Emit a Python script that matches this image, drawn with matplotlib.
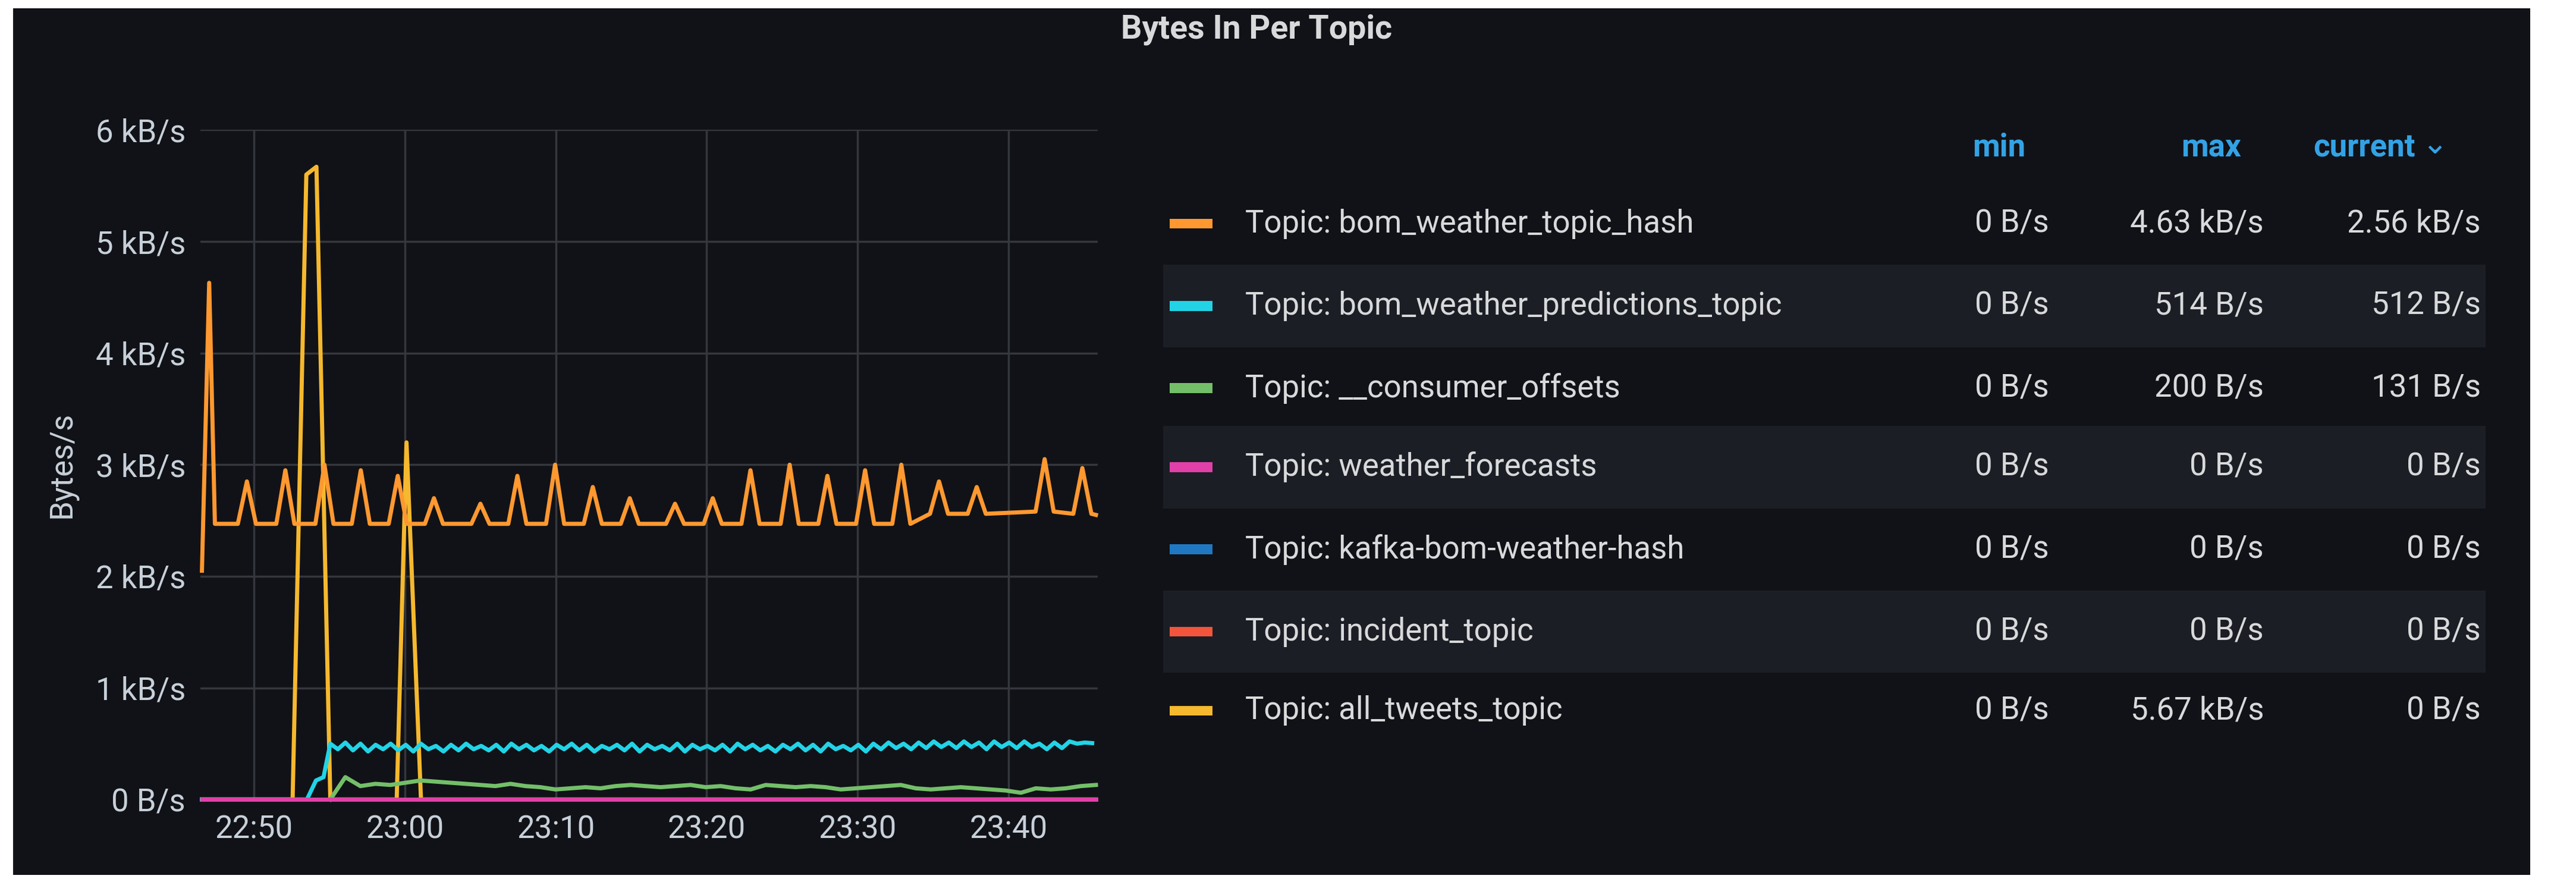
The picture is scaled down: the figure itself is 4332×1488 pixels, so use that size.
import numpy as np
import matplotlib
matplotlib.use("Agg")
import matplotlib.pyplot as plt
from matplotlib.patches import Rectangle

# ---------------- data ----------------
x_ticks = [0, 10, 20, 30, 40, 50]          # minutes after 22:50
x_tick_labels = ["22:50", "23:00", "23:10", "23:20", "23:30", "23:40"]
y_ticks = [0, 1000, 2000, 3000, 4000, 5000, 6000]
y_tick_labels = ["0 B/s", "1 kB/s", "2 kB/s", "3 kB/s", "4 kB/s", "5 kB/s", "6 kB/s"]

t_start, t_end = -3.46, 55.8

orange_peak_t = [-0.48, 2.07, 4.66, 7.07, 9.52, 11.92, 15.0, 17.45, 19.95, 22.45, 24.9,
                 27.9, 30.4, 32.9, 35.5, 38.0, 40.5, 42.9, 45.4, 47.9, 52.4, 54.9]
orange_peak_v = [2850, 2950, 3000, 2950, 2900, 2700, 2650, 2900, 3000, 2800, 2700,
                 2650, 2700, 2950, 3000, 2900, 2950, 3000, 2850, 2800, 3050, 2970]
orange_base_v = [2470, 2470, 2470, 2470, 2470, 2470, 2470, 2470, 2470, 2470, 2470,
                 2470, 2470, 2470, 2470, 2470, 2470, 2470, 2560, 2560, 2580, 2560]
orange_start_t = [-3.46, -2.98, -2.6]
orange_start_v = [2050, 4630, 2470]
orange_end_v = 2550

yellow_t = [-3.46, 2.55, 3.46, 4.13, 5.05, 9.45, 10.1, 11.06, 55.8]
yellow_v = [0, 0, 5600, 5670, 0, 0, 3200, 0, 0]

cyan_pre_t = [-3.46, 3.5, 4.1, 4.6]
cyan_pre_v = [0, 0, 170, 200]
cyan_v = [500,450,510,440,500,430,490,450,500,440,
          490,430,500,450,480,430,490,440,500,450,
          480,440,490,430,500,450,490,440,480,430,
          490,450,500,440,490,430,480,450,490,440,
          500,430,490,450,480,440,500,430,490,450,
          480,440,490,430,500,450,490,440,480,430,
          490,450,500,440,490,430,500,450,480,440,
          490,430,500,450,510,460,500,450,510,460,
          520,470,510,460,520,470,510,450,520,470,
          510,460,520,470,500,450,510,460,520,500,
          510,505]

green_v = [0,200,120,140,130,150,170,160,150,140,130,120,140,120,110,90,100,110,100,120,
           130,120,110,120,130,110,120,100,90,130,120,110,120,110,90,100,110,120,130,100,
           90,100,110,100,90,80,60,100,90,100,120,130]

names = ["Topic: bom_weather_topic_hash", "Topic: bom_weather_predictions_topic",
         "Topic: __consumer_offsets", "Topic: weather_forecasts",
         "Topic: kafka-bom-weather-hash", "Topic: incident_topic", "Topic: all_tweets_topic"]
mins = ["0 B/s"] * 7
maxs = ["4.63 kB/s", "514 B/s", "200 B/s", "0 B/s", "0 B/s", "0 B/s", "5.67 kB/s"]
currents = ["2.56 kB/s", "512 B/s", "131 B/s", "0 B/s", "0 B/s", "0 B/s", "0 B/s"]
colors = ["#FF9830", "#22D3E6", "#73BF69", "#E040A8", "#1F78C1", "#F2553C", "#F5B82E"]

# ---------------- figure ----------------
W, H = 4332, 1488
fig = plt.figure(figsize=(W / 100, H / 100), dpi=100, facecolor="white")
DW, DH = 1568, 538
def fx(x): return x / DW
def fy(y): return 1 - y / DH

fig.patches.append(Rectangle((fx(8), fy(532)), fx(1540) - fx(8), fy(5) - fy(532),
                             transform=fig.transFigure, facecolor="#111217", edgecolor="none", zorder=0))

txt = "#d8d9da"
fs = 38
fig.text(fx(765), fy(18), "Bytes In Per Topic", ha="center", va="center",
         color=txt, fontsize=40, fontweight="bold", family="Roboto")

ax = fig.add_axes([fx(122), fy(486), fx(668) - fx(122), fy(79) - fy(486)])
ax.set_zorder(5)
ax.set_facecolor("#111217")
for s in ax.spines.values():
    s.set_visible(False)
ax.set_xlim(t_start - 0.1, t_end + 0.1)
ax.set_ylim(0, 6000)
ax.set_xticks(x_ticks)
ax.set_xticklabels(x_tick_labels)
ax.set_yticks(y_ticks)
ax.set_yticklabels(y_tick_labels)
ax.tick_params(colors="#c7d0d9", labelsize=fs, length=0, pad=18)
for lab in ax.get_xticklabels() + ax.get_yticklabels():
    lab.set_family("Roboto")
ax.grid(True, color="#34373d", linewidth=2.5)
ax.set_axisbelow(True)
ax.set_ylabel("Bytes/s", color="#c7d0d9", fontsize=fs, family="Roboto", labelpad=22)

lw = 5
ot = list(orange_start_t)
ov = list(orange_start_v)
for p, v, b in zip(orange_peak_t, orange_peak_v, orange_base_v):
    ot += [p - 0.6, p, p + 0.6]
    ov += [b, v, b]
ot.append(t_end); ov.append(orange_end_v)
ct = cyan_pre_t + [5.05 + 0.5 * i for i in range(len(cyan_v))]
cv = cyan_pre_v + cyan_v
gt = np.linspace(5.05, t_end, len(green_v))

ax.plot([t_start, t_end], [0, 0], color=colors[5], lw=lw, clip_on=False)
ax.plot([t_start, t_end], [0, 0], color=colors[4], lw=lw, clip_on=False)
ax.plot(yellow_t, yellow_v, color=colors[6], lw=lw, clip_on=False)
ax.plot(gt, green_v, color=colors[2], lw=lw, clip_on=False)
ax.plot(ct, cv, color=colors[1], lw=lw, clip_on=False)
ax.plot(ot, ov, color=colors[0], lw=lw, clip_on=False)
ax.plot([t_start, t_end], [0, 0], color=colors[3], lw=lw, clip_on=False)

# ---------------- legend table ----------------
hdr = "#33a2e5"
fig.text(fx(1233), fy(90), "min", ha="right", va="center", color=hdr, fontsize=fs,
         fontweight="bold", family="Roboto")
fig.text(fx(1364), fy(90), "max", ha="right", va="center", color=hdr, fontsize=fs,
         fontweight="bold", family="Roboto")
fig.text(fx(1470), fy(90), "current", ha="right", va="center", color=hdr, fontsize=fs,
         fontweight="bold", family="Roboto")
fig.text(fx(1474), fy(88), "⌄", ha="left", va="center", color=hdr, fontsize=fs,
         family="DejaVu Sans")

row_y = [136, 186, 236, 284, 334, 384, 432]
for i, y in enumerate(row_y):
    if i % 2 == 1:
        fig.patches.append(Rectangle((fx(708), fy(y + 25)), fx(1513) - fx(708), fy(y - 25) - fy(y + 25),
                                     transform=fig.transFigure, facecolor="#1b1e25",
                                     edgecolor="none", zorder=1))
    fig.patches.append(Rectangle((fx(712), fy(y + 3)), fx(738) - fx(712), fy(y - 3) - fy(y + 3),
                                 transform=fig.transFigure, facecolor=colors[i],
                                 edgecolor="none", zorder=2))
    fig.text(fx(758), fy(y), names[i], ha="left", va="center", color=txt, fontsize=fs, family="Roboto")
    fig.text(fx(1247), fy(y), mins[i], ha="right", va="center", color=txt, fontsize=fs, family="Roboto")
    fig.text(fx(1378), fy(y), maxs[i], ha="right", va="center", color=txt, fontsize=fs, family="Roboto")
    fig.text(fx(1510), fy(y), currents[i], ha="right", va="center", color=txt, fontsize=fs, family="Roboto")

fig.savefig("out.png", dpi=100, facecolor="white")
